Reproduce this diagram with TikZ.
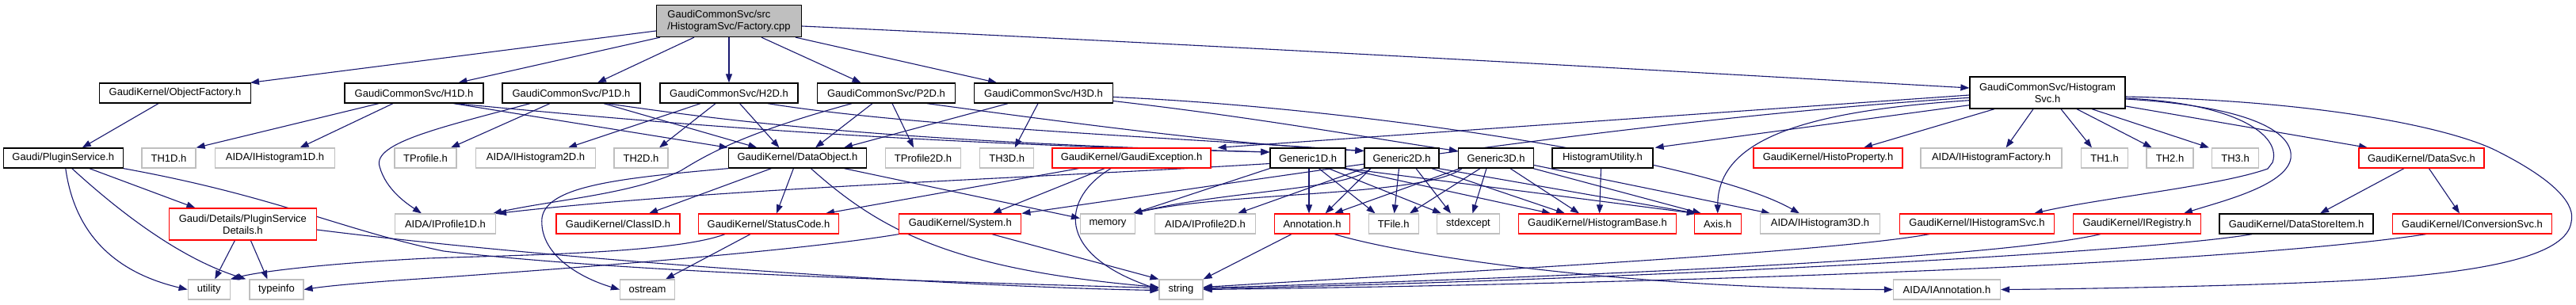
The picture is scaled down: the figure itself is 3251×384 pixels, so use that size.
\documentclass[tikz,border=0pt]{standalone}
\usepackage{fontspec}
\setmainfont{Liberation Sans}
\usetikzlibrary{arrows.meta}
\definecolor{edgec}{HTML}{191970}
\definecolor{redc}{HTML}{FF0000}
\definecolor{grayc}{HTML}{BFBFBF}
\definecolor{blkc}{HTML}{000000}
\definecolor{rootfill}{HTML}{BFBFBF}
\pgfdeclarelayer{bg}
\pgfsetlayers{bg,main}
\tikzset{
  box/.style={rectangle, fill=white, inner sep=0pt, minimum height=25pt,
    font=\fontsize{13pt}{15pt}\selectfont, line width=1.2pt},
  blk/.style={box, draw=blkc, line width=1.3pt},
  redb/.style={box, draw=redc},
  grb/.style={box, draw=grayc},
  edge/.style={draw=edgec, line width=1.1pt, -{Triangle[length=11pt,width=8pt]}},
}
\begin{document}
\begin{tikzpicture}[x=1pt,y=-1pt]
\useasboundingbox (0,0) rectangle (3251,384);
% row 0
\node[blk, fill=rootfill, minimum width=183pt, minimum height=40pt, align=left] (factory) at (920,26.5) {GaudiCommonSvc/src\\/HistogramSvc/Factory.cpp};
% row 1
\node[blk, minimum width=191pt] (objfac) at (221,117.5) {GaudiKernel/ObjectFactory.h};
\node[blk, minimum width=175pt] (h1d) at (522.5,117.5) {GaudiCommonSvc/H1D.h};
\node[blk, minimum width=174pt] (p1d) at (721,117.5) {GaudiCommonSvc/P1D.h};
\node[blk, minimum width=174pt] (h2d) at (920,117.5) {GaudiCommonSvc/H2D.h};
\node[blk, minimum width=174pt] (p2d) at (1118.5,117.5) {GaudiCommonSvc/P2D.h};
\node[blk, minimum width=175pt] (h3d) at (1317,117.5) {GaudiCommonSvc/H3D.h};
\node[blk, minimum width=196pt, minimum height=40pt, align=center] (histsvc) at (2584,117) {GaudiCommonSvc/Histogram\\Svc.h};
% row 2
\node[blk, minimum width=151pt] (pluginsvc) at (79.8,199.5) {Gaudi/PluginService.h};
\node[grb, minimum width=68pt] (th1d) at (213,199.5) {TH1D.h};
\node[grb, minimum width=151pt] (aidah1d) at (347,199.5) {AIDA/IHistogram1D.h};
\node[grb, minimum width=78pt] (tprofile) at (537,199.5) {TProfile.h};
\node[grb, minimum width=151pt] (aidah2d) at (676,199.5) {AIDA/IHistogram2D.h};
\node[grb, minimum width=68pt] (th2d) at (809,199.5) {TH2D.h};
\node[blk, minimum width=174pt] (dataobj) at (1006.4,199.5) {GaudiKernel/DataObject.h};
\node[grb, minimum width=95pt] (tprof2d) at (1165,199.5) {TProfile2D.h};
\node[grb, minimum width=68pt] (th3d) at (1270.7,199.5) {TH3D.h};
\node[redb, minimum width=200pt] (gexc) at (1428,199.5) {GaudiKernel/GaudiException.h};
\node[blk, minimum width=95pt] (gen1d) at (1650.5,199.5) {Generic1D.h};
\node[blk, minimum width=94pt] (gen2d) at (1769,199.5) {Generic2D.h};
\node[blk, minimum width=95pt] (gen3d) at (1888,199.5) {Generic3D.h};
\node[blk, minimum width=127pt] (histutil) at (2022.5,199.5) {HistogramUtility.h};
\node[redb, minimum width=188pt] (histoprop) at (2307,199.5) {GaudiKernel/HistoProperty.h};
\node[grb, minimum width=178pt] (aidahf) at (2513,199.5) {AIDA/IHistogramFactory.h};
\node[grb, minimum width=59pt] (th1) at (2656,199.5) {TH1.h};
\node[grb, minimum width=59pt] (th2) at (2738.5,199.5) {TH2.h};
\node[grb, minimum width=59pt] (th3) at (2821,199.5) {TH3.h};
\node[redb, minimum width=158pt] (datasvc) at (3056,199.5) {GaudiKernel/DataSvc.h};
% row 3
\node[redb, minimum width=186pt, minimum height=40pt, align=center] (psdetails) at (306.4,283) {Gaudi/Details/PluginService\\Details.h};
\node[grb, minimum width=127pt] (aidap1d) at (562,282.5) {AIDA/IProfile1D.h};
\node[redb, minimum width=156pt] (classid) at (780,282.5) {GaudiKernel/ClassID.h};
\node[redb, minimum width=177pt] (statuscode) at (970,282.5) {GaudiKernel/StatusCode.h};
\node[redb, minimum width=154pt] (system) at (1211.8,282.5) {GaudiKernel/System.h};
\node[grb, minimum width=69pt] (memory) at (1398,282.5) {memory};
\node[grb, minimum width=127pt] (aidap2d) at (1521,282.5) {AIDA/IProfile2D.h};
\node[redb, minimum width=95pt] (annotation) at (1656,282.5) {Annotation.h};
\node[grb, minimum width=63pt] (tfile) at (1758.6,282.5) {TFile.h};
\node[grb, minimum width=79pt] (stdexcept) at (1853,282.5) {stdexcept};
\node[redb, minimum width=199pt] (histbase) at (2016,282.5) {GaudiKernel/HistogramBase.h};
\node[redb, minimum width=59pt] (axis) at (2167.7,282.5) {Axis.h};
\node[grb, minimum width=151pt] (aidah3d) at (2297,282.5) {AIDA/IHistogram3D.h};
\node[redb, minimum width=195pt] (ihistsvc) at (2495,282.5) {GaudiKernel/IHistogramSvc.h};
\node[redb, minimum width=161pt] (iregistry) at (2697,282.5) {GaudiKernel/IRegistry.h};
\node[blk, minimum width=194pt] (dsitem) at (2898,282.5) {GaudiKernel/DataStoreItem.h};
\node[redb, minimum width=201pt] (iconvsvc) at (3120,282.5) {GaudiKernel/IConversionSvc.h};
% row 4
\node[grb, minimum width=53pt] (utility) at (263.7,365.5) {utility};
\node[grb, minimum width=68pt] (typeinfo) at (349,365.5) {typeinfo};
\node[grb, minimum width=69pt] (ostream) at (817,365.5) {ostream};
\node[grb, minimum width=55pt] (string) at (1490.5,365.5) {string};
\node[grb, minimum width=135pt] (aidaannot) at (2457,365.5) {AIDA/IAnnotation.h};

\begin{pgfonlayer}{bg}
\fill[white] (0,0) rectangle (3251,384);
% factory
\draw[edge] ([yshift=-12.5pt]factory.west) -- ([xshift=95pt]objfac.north);
\draw[edge] ([xshift=-87pt]factory.south) -- ([xshift=56pt]h1d.north);
\draw[edge] ([xshift=-44pt]factory.south) -- ([xshift=33pt]p1d.north);
\draw[edge] (factory.south) -- (h2d.north);
\draw[edge] ([xshift=41pt]factory.south) -- ([xshift=-32pt]p2d.north);
\draw[edge] ([xshift=84pt]factory.south) -- ([xshift=-59pt]h3d.north);
\draw[edge] ([yshift=-6.5pt]factory.east) .. controls (1600,60) and (2200,95) .. ([yshift=6pt]histsvc.west);
% object factory / plugin service
\draw[edge] ([xshift=-21pt]objfac.south) -- ([xshift=24pt]pluginsvc.north);
\draw[edge] ([xshift=33pt]pluginsvc.south) -- ([xshift=-60pt]psdetails.north);
\draw[edge] ([xshift=3pt]pluginsvc.south) .. controls (95,300) and (150,345) .. (utility.west);
\draw[edge] ([xshift=11pt]pluginsvc.south) .. controls (170,285) and (240,330) .. ([xshift=-4pt]typeinfo.north west);
\draw[edge] (pluginsvc.south east) .. controls (350,248) and (430,290) .. (560,317) .. controls (800,345) and (1200,356) .. ([yshift=2pt]string.west);
\draw[edge] ([xshift=-10pt]psdetails.south) -- ([xshift=7.5pt]utility.north);
\draw[edge] ([xshift=10pt]psdetails.south) -- ([xshift=-11.5pt]typeinfo.north);
\draw[edge] ([yshift=-7pt]psdetails.east) .. controls (700,328) and (1200,362) .. ([yshift=-1pt]string.west);
% status code / system
\draw[edge] ([xshift=-55pt]statuscode.south) .. controls (850,320) and (650,322) .. (540,326) .. controls (420,332) and (330,342) .. (utility.north east);
\draw[edge] (system.south west) .. controls (1000,318) and (700,340) .. (560,350) .. controls (480,355) and (420,360) .. (typeinfo.east);
\draw[edge] ([xshift=-23pt]statuscode.south) -- ([xshift=23pt]ostream.north);
\draw[edge] ([xshift=40pt]system.south) -- (string.north west);
% data object
\draw[edge] (dataobj.south west) .. controls (780,225) and (690,235) .. (684,275) .. controls (680,320) and (730,350) .. (ostream.west);
\draw[edge] ([xshift=-33pt]dataobj.south) -- ([xshift=39pt]classid.north);
\draw[edge] ([xshift=-5pt]dataobj.south) -- ([xshift=10pt]statuscode.north);
\draw[edge] ([xshift=59pt]dataobj.south) -- ([yshift=7pt]memory.west);
\draw[edge] ([xshift=17pt]dataobj.south) .. controls (1110,290) and (1200,340) .. ([yshift=3pt]string.west);
% H1D
\draw[edge] ([xshift=-44.5pt]h1d.south) -- (th1d.north east);
\draw[edge] ([xshift=-26.5pt]h1d.south) -- ([xshift=31.6pt]aidah1d.north);
\draw[edge] ([xshift=50pt]h1d.south) -- (dataobj.north west);
\draw[edge] ([xshift=52pt]h1d.south) .. controls (800,152) and (1100,180) .. ([yshift=7.5pt]gen1d.west);
% P1D
\draw[edge] ([xshift=-52pt]p1d.south) .. controls (560,160) and (470,180) .. (479,210) .. controls (487,240) and (515,258) .. ([xshift=-30pt]aidap1d.north);
\draw[edge] ([xshift=-27pt]p1d.south) -- ([xshift=32pt]tprofile.north);
\draw[edge] ([xshift=41pt]p1d.south) -- ([xshift=-51pt]dataobj.north);
\draw[edge] ([xshift=45pt]p1d.south) .. controls (900,150) and (1100,178) .. ([yshift=7.5pt]gen1d.west);
% H2D
\draw[edge] ([xshift=-36pt]h2d.south) -- ([xshift=41pt]aidah2d.north);
\draw[edge] ([xshift=-17pt]h2d.south) -- ([xshift=23pt]th2d.north);
\draw[edge] ([xshift=13.6pt]h2d.south) -- ([xshift=-23pt]dataobj.north);
\draw[edge] ([xshift=49pt]h2d.south) .. controls (1150,160) and (1500,175) .. ([yshift=9pt]gen2d.west);
% P2D
\draw[edge] ([xshift=-43.5pt]p2d.south) .. controls (950,165) and (900,190) .. (860,215) .. controls (800,245) and (700,252) .. ([xshift=-4pt]aidap1d.north east);
\draw[edge] ([xshift=-17.5pt]p2d.south) -- ([xshift=22.6pt]dataobj.north);
\draw[edge] ([xshift=7.5pt]p2d.south) -- ([xshift=-12pt]tprof2d.north);
\draw[edge] ([xshift=51.5pt]p2d.south) .. controls (1350,155) and (1550,182) .. ([yshift=9pt]gen2d.west);
% H3D
\draw[edge] ([xshift=-45pt]h3d.south) -- ([xshift=58.6pt]dataobj.north);
\draw[edge] ([xshift=-7pt]h3d.south) -- ([xshift=10pt]th3d.north);
\draw[edge] ([yshift=-10pt]h3d.east) .. controls (1600,150) and (1750,178) .. ([yshift=9pt]gen3d.west);
\draw[edge] ([yshift=-5pt]h3d.east) .. controls (1700,135) and (2150,200) .. ([xshift=-26pt]aidah3d.north);
% GaudiException
\draw[edge] ([xshift=-66.4pt]gexc.south) -- ([xshift=72pt]statuscode.north);
\draw[edge] ([xshift=-34pt]gexc.south) -- ([xshift=41pt]system.north);
\draw[edge] ([xshift=-26pt]gexc.south) .. controls (1340,250) and (1330,320) .. (string.west);
% Generic1D
\draw[edge] ([yshift=-7pt]gen1d.west) .. controls (1300,225) and (900,238) .. ([xshift=2pt]aidap1d.north east);
\draw[edge] (gen1d.south west) -- ([xshift=-3pt]memory.north east);
\draw[edge] ([xshift=1.5pt]gen1d.south) -- ([xshift=-4pt]annotation.north);
\draw[edge] ([xshift=14pt]gen1d.south) -- ([xshift=-23pt]tfile.north);
\draw[edge] ([xshift=26pt]gen1d.south) -- ([xshift=-34pt]stdexcept.north);
\draw[edge] ([xshift=45.5pt]gen1d.south) -- ([xshift=-59pt]histbase.north);
\draw[edge] (gen1d.south east) -- ([xshift=-28pt]axis.north);
% Generic2D
\draw[edge] ([xshift=-39pt]gen2d.south) .. controls (1700,240) and (1550,240) .. ([xshift=-3pt]memory.north east);
\draw[edge] (gen2d.south west) -- ([xshift=41pt]aidap2d.north);
\draw[edge] ([xshift=-39pt]gen2d.south) -- ([xshift=16.6pt]annotation.north);
\draw[edge] ([xshift=-3.5pt]gen2d.south) -- ([xshift=1pt]tfile.north);
\draw[edge] ([xshift=18pt]gen2d.south) -- ([xshift=-22pt]stdexcept.north);
\draw[edge] ([xshift=38pt]gen2d.south) -- ([xshift=-41pt]histbase.north);
\draw[edge] ([xshift=46.5pt]gen2d.south) -- ([xshift=-26.5pt]axis.north);
% Generic3D
\draw[edge] ([xshift=-43pt]gen3d.south) .. controls (1800,248) and (1550,242) .. ([xshift=-3pt]memory.north east);
\draw[edge] ([xshift=-45.5pt]gen3d.south) -- ([xshift=28pt]annotation.north);
\draw[edge] ([xshift=-20pt]gen3d.south) -- ([xshift=20.4pt]tfile.north);
\draw[edge] ([xshift=-12pt]gen3d.south) -- ([xshift=5.4pt]stdexcept.north);
\draw[edge] ([xshift=18pt]gen3d.south) -- ([xshift=-23pt]histbase.north);
\draw[edge] ([xshift=47pt]gen3d.south) -- ([xshift=-20.7pt]axis.north);
\draw[edge] ([yshift=-9pt]gen3d.east) -- ([xshift=-63pt]aidah3d.north);
% HistogramUtility
\draw[edge] ([xshift=-2pt]histutil.south) -- ([xshift=2.6pt]histbase.north);
% HistogramSvc
\draw[edge] ([yshift=-3pt]histsvc.west) -- ([xshift=8pt]gexc.north east);
\draw[edge] ([yshift=-6.3pt]histsvc.west) .. controls (2100,148) and (1700,210) .. (system.north east);
\draw[edge] ([yshift=-9.7pt]histsvc.west) .. controls (2280,140) and (2168,175) .. (axis.north);
\draw[edge] ([yshift=-15.7pt]histsvc.west) -- ([xshift=2pt]histutil.north east);
\draw[edge] ([xshift=-67pt]histsvc.south) -- ([xshift=45pt]histoprop.north);
\draw[edge] ([xshift=-18pt]histsvc.south) -- ([xshift=18.6pt]aidahf.north);
\draw[edge] ([xshift=17pt]histsvc.south) -- ([xshift=-16pt]th1.north);
\draw[edge] ([xshift=37pt]histsvc.south) -- ([xshift=-22.7pt]th2.north);
\draw[edge] ([xshift=56pt]histsvc.south) -- ([xshift=-3pt]th3.north west);
\draw[edge] ([yshift=-17pt]histsvc.east) -- ([xshift=-68pt]datasvc.north);
\draw[edge] ([yshift=-7pt]histsvc.east) .. controls (2820,130) and (2880,170) .. (2868,205) -- (2862,213) .. controls (2800,235) and (2650,250) .. ([xshift=72pt]ihistsvc.north);
\draw[edge] ([yshift=-8pt]histsvc.east) .. controls (2850,135) and (2895,170) .. (2891,200) .. controls (2885,235) and (2800,255) .. ([xshift=59pt]iregistry.north);
\draw[edge] ([yshift=-5pt]histsvc.east) .. controls (2950,128) and (3100,165) .. (3150,190) .. controls (3230,230) and (3250,260) .. (3245,280) .. controls (3240,320) and (3150,345) .. (2950,355) .. controls (2800,362) and (2600,365) .. (aidaannot.east);
% DataSvc
\draw[edge] ([xshift=-22pt]datasvc.south) -- ([xshift=30pt]dsitem.north);
\draw[edge] ([xshift=9.4pt]datasvc.south) -- ([xshift=-16pt]iconvsvc.north);
% into string from right
\draw[edge] ([xshift=-60pt]ihistsvc.south) .. controls (2300,320) and (1800,345) .. ([yshift=3pt]string.east);
\draw[edge] ([xshift=-46pt]iregistry.south) .. controls (2500,330) and (1900,352) .. ([yshift=2pt]string.east);
\draw[edge] ([xshift=-56pt]dsitem.south) .. controls (2700,320) and (2000,355) .. ([yshift=1pt]string.east);
\draw[edge] ([xshift=-58pt]iconvsvc.south) .. controls (2800,335) and (2100,358) .. (string.east);
% Annotation
\draw[edge] ([xshift=-26pt]annotation.south) -- (string.north east);
\draw[edge] ([xshift=28pt]annotation.south) .. controls (1800,330) and (2100,365) .. (aidaannot.west);
\end{pgfonlayer}
\end{tikzpicture}
\end{document}
